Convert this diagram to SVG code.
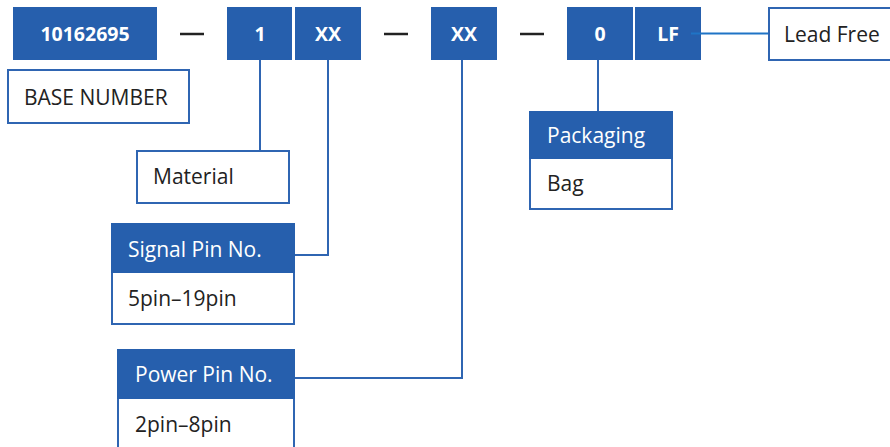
<svg xmlns="http://www.w3.org/2000/svg" width="890" height="447" viewBox="0 0 890 447">
<style>
.code{fill:#265fad}
.ct{fill:#fff;font-family:"Open Sans","Noto Sans",sans-serif;font-weight:bold;font-size:19.5px;text-anchor:middle}
.box{fill:#fff;stroke:#2f65b2;stroke-width:2}
.hdr{fill:#265fad;stroke:#265fad;stroke-width:2}
.lbl{fill:#222;font-family:"Open Sans","Noto Sans",sans-serif;font-size:21px}
.hl{fill:#fff;font-family:"Open Sans","Noto Sans",sans-serif;font-size:21px}
.dash{stroke:#222;stroke-width:2.5}
.ln{fill:none;stroke:#2f65b2;stroke-width:2}
</style>
<rect width="890" height="447" fill="#fff"/>
<g id="code">
<g id="base-code"><rect class="code" x="13" y="7" width="144" height="53"/><text class="ct" x="85" y="41">10162695</text></g>
<line class="dash" x1="180" y1="34" x2="204" y2="34"/>
<g id="material-code"><rect class="code" x="227" y="7" width="65" height="53"/><text class="ct" x="260" y="41">1</text></g>
<g id="signal-code"><rect class="code" x="295" y="7" width="66" height="53"/><text class="ct" x="328" y="41">XX</text></g>
<line class="dash" x1="384" y1="34" x2="408" y2="34"/>
<g id="power-code"><rect class="code" x="431" y="7" width="66" height="53"/><text class="ct" x="464" y="41">XX</text></g>
<line class="dash" x1="520" y1="34" x2="544" y2="34"/>
<g id="packaging-code"><rect class="code" x="567" y="7" width="66" height="53"/><text class="ct" x="600" y="41">0</text></g>
<g id="lf-code"><rect class="code" x="635" y="7" width="66" height="53"/><text class="ct" x="668" y="41">LF</text></g>
</g>
<g id="connectors">
<line x1="691" y1="33.5" x2="769" y2="33.5" stroke="#1f74c6" stroke-width="2"/>
<polyline class="ln" points="260,60 260,151"/>
<polyline class="ln" points="328,60 328,255 294,255"/>
<polyline class="ln" points="462,60 462,378 294,378"/>
<polyline class="ln" points="598,60 598,112"/>
</g>
<g id="lead-free"><rect class="box" x="769" y="8" width="122" height="52"/><text class="lbl" x="784" y="42">Lead Free</text></g>
<g id="base-number"><rect class="box" x="8" y="70" width="181" height="53"/><text class="lbl" x="24" y="105">BASE NUMBER</text></g>
<g id="material"><rect class="box" x="137" y="151" width="152" height="52"/><text class="lbl" x="153" y="184">Material</text></g>
<g id="signal-pin"><rect class="box" x="112" y="224" width="182" height="100"/><rect class="hdr" x="112" y="224" width="182" height="48"/><text class="hl" x="128" y="257">Signal Pin No.</text><text class="lbl" x="128" y="306">5pin–19pin</text></g>
<g id="power-pin"><rect class="box" x="118" y="350" width="176" height="100"/><rect class="hdr" x="118" y="350" width="176" height="48"/><text class="hl" x="135" y="382">Power Pin No.</text><text class="lbl" x="135" y="432">2pin–8pin</text></g>
<g id="packaging"><rect class="box" x="530" y="112" width="142" height="97"/><rect class="hdr" x="530" y="112" width="142" height="46"/><text class="hl" x="547" y="143">Packaging</text><text class="lbl" x="547" y="191">Bag</text></g>
</svg>
